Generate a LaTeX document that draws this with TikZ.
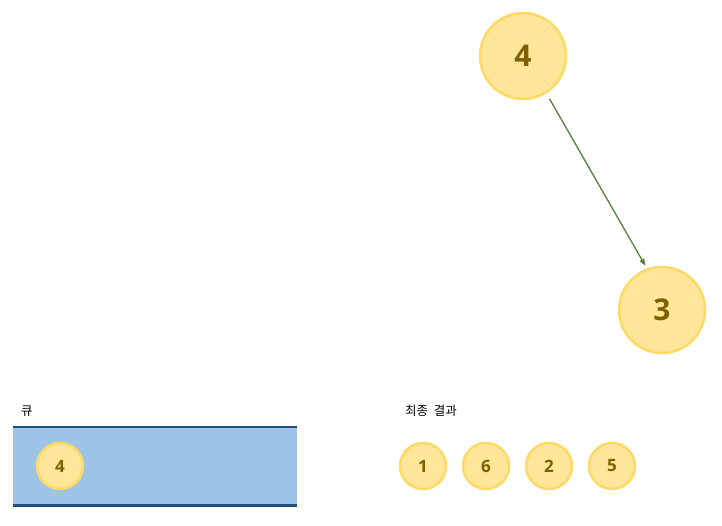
\documentclass[tikz,border=0pt]{standalone}
\usepackage{fontspec}
\setmainfont{Open Sans}
\newfontfamily\kr{Noto Sans CJK KR}
\usetikzlibrary{arrows.meta}
\definecolor{nodefill}{HTML}{FFE699}
\definecolor{nodeline}{HTML}{FFD966}
\definecolor{nodetext}{HTML}{7F6000}
\definecolor{queuefill}{HTML}{9DC3E6}
\definecolor{queueline}{HTML}{1F4E79}
\definecolor{edgecol}{HTML}{538135}
\tikzset{
	bignode/.style={circle, draw=nodeline, fill=nodefill, line width=2.5pt, minimum size=86pt, inner sep=0pt, text=nodetext, font=\fontsize{30}{30}\selectfont\bfseries},
	smallnode/.style={circle, draw=nodeline, fill=nodefill, line width=2.5pt, minimum size=46pt, inner sep=0pt, text=nodetext, font=\fontsize{17}{17}\selectfont\bfseries},
	label/.style={font=\kr\fontsize{12.5}{12.5}\selectfont, inner sep=0pt}
}
\begin{document}
\begin{tikzpicture}[x=1pt, y=-1pt]
		\useasboundingbox (0,0) rectangle (722,525);

		% tree
		\node[bignode] (n4) at (523,56) {4};
		\node[bignode] (n3) at (662,310) {3};
		\draw[-{Triangle[length=7pt,width=5pt]}, edgecol, line width=1.3pt, shorten <=6pt, shorten >=3pt] (n4.-58) -- (n3.110);

		% queue
		\node[label, anchor=west] (qlabel) at (21,411) {큐};
		\node[fill=queuefill, minimum width=284pt, minimum height=78pt, inner sep=0pt, anchor=north west] (q) at (13,427) {};
		\draw[queueline, line width=2.5pt] (q.north west) -- (q.north east);
		\draw[queueline, line width=2.5pt] (q.south west) -- (q.south east);
		\node[smallnode] (q4) at (60,466) {4};

		% result
		\node[label, anchor=west] (rlabel) at (405,411) {최종~~결과};
		\foreach \v [count=\i] in {1,6,2,5} {
			\node[smallnode] (r\i) at ({423 + 63*(\i-1)},466) {\v};
		}
	\end{tikzpicture}
\end{document}
